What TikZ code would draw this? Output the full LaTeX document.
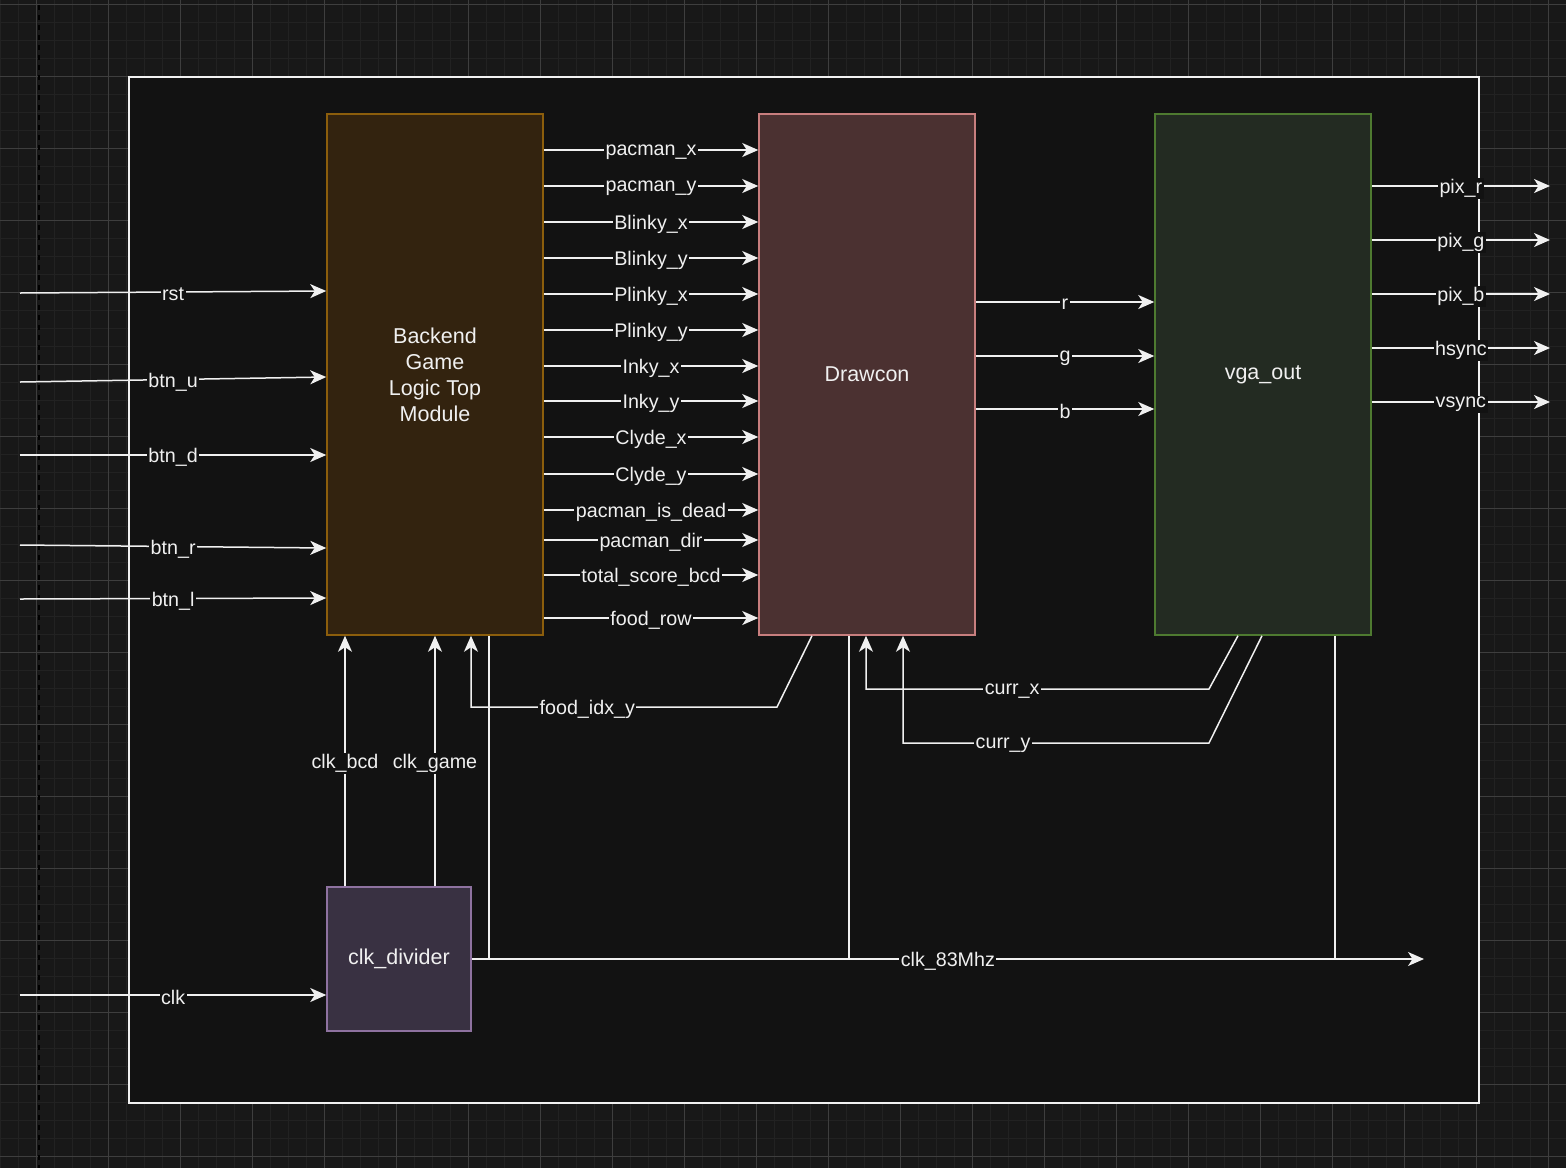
\documentclass[tikz,border=0pt]{standalone}
\usepackage{fontspec}
\setmainfont{Liberation Sans}
\usetikzlibrary{arrows.meta,calc}

\definecolor{canvas}{HTML}{181818}
\definecolor{gridminor}{HTML}{222222}
\definecolor{gridmajor}{HTML}{3E3E3E}
\definecolor{panel}{HTML}{121212}
\definecolor{wire}{HTML}{F0F0F0}
\definecolor{gamefill}{HTML}{33230F}
\definecolor{gameline}{HTML}{8C5E0C}
\definecolor{drawfill}{HTML}{4B3131}
\definecolor{drawline}{HTML}{C87E7E}
\definecolor{vgafill}{HTML}{232B22}
\definecolor{vgaline}{HTML}{4E7A30}
\definecolor{clkfill}{HTML}{393142}
\definecolor{clkline}{HTML}{8E72A0}

\tikzset{
  block/.style={rectangle, line width=1.5pt, text=wire, align=center,
    font=\fontsize{21.5}{26}\selectfont, inner sep=0pt},
  sig/.style={draw=wire, line width=1.5pt,
    -{Stealth[length=16pt,width=14pt,inset=4.5pt]}},
  wireline/.style={draw=wire, line width=1.5pt},
  lbl/.style={fill=panel, text=wire, inner sep=1.5pt, yshift=-2.5pt,
    font=\fontsize{19.7}{22}\selectfont},
}

\begin{document}
\begin{tikzpicture}[x=1pt,y=-1pt]
\useasboundingbox (0,0) rectangle (1566,1168);

% canvas with grid
\fill[canvas] (0,0) rectangle (1566,1168);
\foreach \i in {0,...,87}
  \draw[gridminor, line width=1pt] (\i*18,0) -- (\i*18,1168);
\foreach \i in {0,...,64}
  \draw[gridminor, line width=1pt] (0,4+\i*18) -- (1566,4+\i*18);
\foreach \i in {0,...,21}
  \draw[gridmajor, line width=1pt] (36+\i*72,0) -- (36+\i*72,1168);
\foreach \i in {0,...,16}
  \draw[gridmajor, line width=1pt] (0,4+\i*72) -- (1566,4+\i*72);
\draw[color=gridmajor!140, line width=1.5pt, dash pattern=on 5pt off 5pt] (39,5) -- (39,1168);

% top-level frame
\node[rectangle, draw=wire!92, fill=panel, line width=2pt,
      minimum width=1350pt, minimum height=1026pt] (frame) at (804,590) {};

% modules
\node[block, fill=gamefill, draw=gameline, minimum width=216pt, minimum height=521pt]
  (backend) at (435,374.5) {Backend\\Game\\Logic Top\\Module};
\node[block, fill=drawfill, draw=drawline, minimum width=216pt, minimum height=521pt]
  (drawcon) at (867,374.5) {\raisebox{-1.5pt}{Drawcon}};
\node[block, fill=vgafill, draw=vgaline, minimum width=216pt, minimum height=521pt]
  (vga) at (1263,374.5) {\raisebox{-1.5pt}{vga\_out}};
\node[block, fill=clkfill, draw=clkline, minimum width=144pt, minimum height=144pt]
  (clkdiv) at (399,959) {\raisebox{-1.5pt}{clk\_divider}};

% game state to renderer
\foreach \yy/\txt in {150/pacman\_x, 186/pacman\_y, 222/Blinky\_x, 258/Blinky\_y,
    294/Plinky\_x, 330/Plinky\_y, 366/Inky\_x, 401/Inky\_y, 437/Clyde\_x,
    474/Clyde\_y, 510/pacman\_is\_dead, 540/pacman\_dir, 575/total\_score\_bcd,
    618/food\_row}
  \draw[sig] (backend.east |- 0,\yy) -- node[lbl]{\txt} (drawcon.west |- 0,\yy);

% renderer colour channels
\foreach \yy/\txt in {302/r, 356/g, 409/b}
  \draw[sig] (drawcon.east |- 0,\yy) -- node[lbl]{\txt} (vga.west |- 0,\yy);

% board outputs
\foreach \yy/\txt in {186/pix\_r, 240/pix\_g, 294/pix\_b, 348/hsync, 402/vsync} {
  \coordinate (out-\yy) at (1550,\yy);
  \draw[sig] (vga.east |- 0,\yy) -- node[lbl]{\txt} (out-\yy);
}

% board inputs
\coordinate (in-rst) at (20,293);
\coordinate (in-u) at (20,382);
\coordinate (in-d) at (20,455);
\coordinate (in-r) at (20,545);
\coordinate (in-l) at (20,599);
\coordinate (in-clk) at (20,995);
\draw[sig] (in-rst) -- node[lbl]{rst} (backend.west |- 0,291);
\draw[sig] (in-u) -- node[lbl]{btn\_u} (backend.west |- 0,377);
\draw[sig] (in-d) -- node[lbl]{btn\_d} (backend.west |- 0,455);
\draw[sig] (in-r) -- node[lbl]{btn\_r} (backend.west |- 0,548);
\draw[sig] (in-l) -- node[lbl]{btn\_l} (backend.west |- 0,598);
\draw[sig] (in-clk) -- node[lbl]{clk} (clkdiv.west |- 0,995);

% divided clocks
\draw[sig] (clkdiv.north -| 345,0) -- node[lbl]{clk\_bcd} (backend.south -| 345,0);
\draw[sig] (clkdiv.north -| 435,0) -- node[lbl]{clk\_game} (backend.south -| 435,0);

% pixel clock and its taps
\coordinate (clk-end) at (1424,959);
\coordinate (tap-game) at (489,959);
\coordinate (tap-draw) at (849,959);
\coordinate (tap-vga) at (1335,959);
\draw[wireline] (tap-game) -- (backend.south -| tap-game);
\draw[wireline] (tap-draw) -- (drawcon.south -| tap-draw);
\draw[wireline] (tap-vga) -- (vga.south -| tap-vga);
\draw[sig] (clkdiv.east |- clk-end) -- node[lbl]{clk\_83Mhz} (clk-end);

% feedback paths
\draw[sig] (drawcon.south -| 812,0) -- (777,707)
  -- node[lbl, pos=0.62]{food\_idx\_y} (471,707) -- (backend.south -| 471,0);
\draw[sig] (vga.south -| 1238,0) -- (1209,689)
  -- node[lbl, pos=0.574]{curr\_x} (866,689) -- (drawcon.south -| 866,0);
\draw[sig] (vga.south -| 1262,0) -- (1209,743)
  -- node[lbl, pos=0.673]{curr\_y} (903,743) -- (drawcon.south -| 903,0);

\end{tikzpicture}
\end{document}
